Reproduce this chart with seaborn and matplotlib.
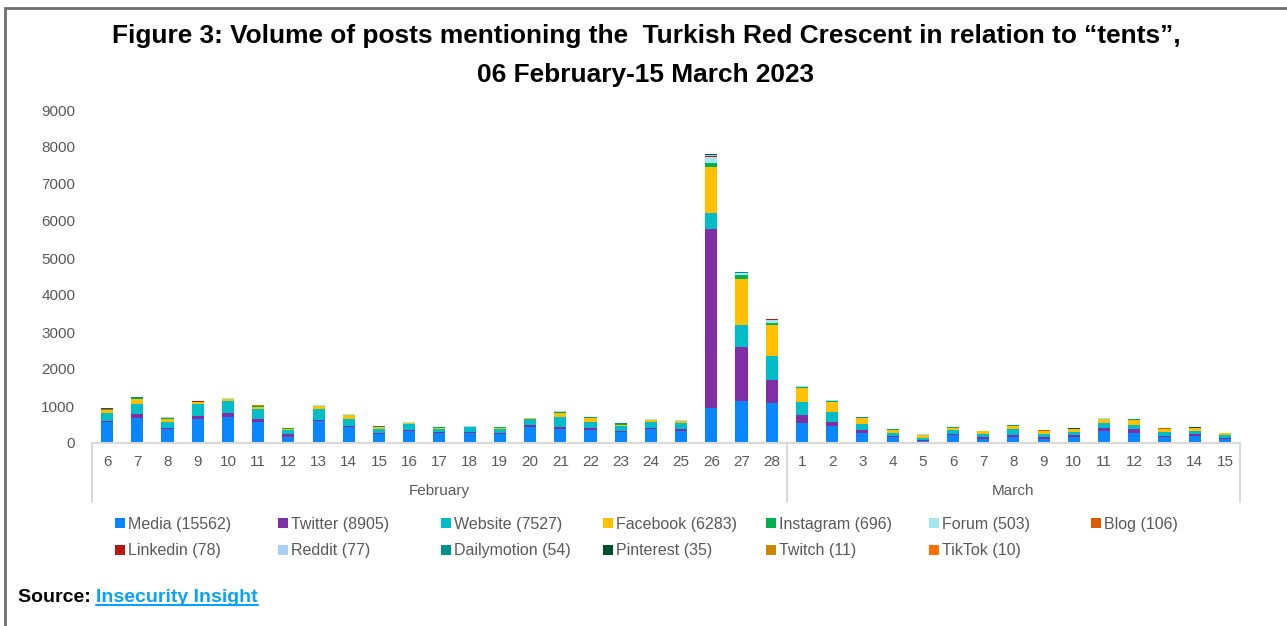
import numpy as np
import pandas as pd
import matplotlib
matplotlib.use("Agg")
import matplotlib.pyplot as plt
import seaborn as sns
from matplotlib import font_manager as fm
from matplotlib.patches import Patch, Rectangle
from matplotlib.lines import Line2D

# ---------------- data ----------------
days = [6, 7, 8, 9, 10, 11, 12, 13, 14, 15, 16, 17, 18, 19, 20, 21, 22, 23, 24, 25, 26, 27, 28,
        1, 2, 3, 4, 5, 6, 7, 8, 9, 10, 11, 12, 13, 14, 15]
month_names = ["February", "March"]
month_counts = [23, 15]

media = [560, 667, 370, 640, 703, 560, 171, 603, 441, 252, 333, 261, 279, 243, 441, 387, 351, 306, 387, 333,
         946, 1124, 1089, 532, 451, 279, 162, 54, 207, 117, 171, 117, 171, 315, 261, 153, 198, 108]
twitter = [40, 117, 45, 98, 117, 89, 81, 27, 18, 9, 27, 27, 18, 27, 37, 54, 46, 27, 18, 54,
           4838, 1460, 622, 225, 125, 63, 36, 36, 36, 45, 36, 36, 36, 99, 126, 36, 36, 27]
website = [220, 270, 162, 324, 306, 270, 99, 289, 198, 117, 145, 90, 127, 117, 162, 253, 179, 117, 171, 153,
           421, 613, 648, 359, 270, 163, 63, 45, 99, 81, 171, 99, 81, 135, 108, 117, 81, 72]
facebook = [70, 127, 81, 38, 63, 63, 27, 72, 91, 46, 35, 36, 10, 27, 27, 126, 108, 36, 46, 55,
            1265, 1235, 838, 362, 270, 162, 99, 81, 72, 81, 90, 72, 81, 100, 135, 72, 82, 54]
instagram = [25, 27, 18, 12, 10, 15, 15, 20, 15, 10, 12, 8, 5, 8, 8, 18, 10, 20, 10, 10,
             92, 98, 54, 44, 27, 12, 6, 8, 6, 6, 10, 8, 10, 10, 15, 8, 10, 6]
forum = [10, 12, 8, 6, 8, 8, 10, 10, 8, 6, 6, 5, 4, 5, 5, 8, 5, 12, 5, 5,
         162, 59, 81, 14, 12, 6, 3, 6, 3, 3, 5, 5, 6, 5, 8, 5, 6, 3]
blog = [6, 4, 3, 2, 3, 3, 4, 5, 3, 2, 2, 2, 1, 2, 2, 3, 2, 4, 2, 2,
        10, 6, 5, 5, 4, 2, 1, 2, 1, 1, 2, 2, 3, 2, 3, 2, 2, 1]
linkedin = [3, 3, 2, 2, 2, 2, 3, 3, 2, 2, 2, 1, 1, 1, 1, 2, 1, 3, 1, 1,
            20, 8, 5, 3, 2, 1, 1, 1, 1, 1, 1, 1, 1, 1, 2, 1, 1, 1]
reddit = [2, 2, 1, 1, 1, 1, 2, 2, 1, 1, 1, 1, 1, 1, 1, 1, 1, 2, 1, 1,
          30, 5, 3, 2, 1, 1, 0, 1, 0, 0, 1, 1, 1, 1, 1, 1, 1, 0]
dailymotion = [2, 2, 1, 1, 1, 1, 1, 2, 1, 1, 1, 1, 0, 1, 1, 1, 1, 2, 1, 1,
               10, 5, 4, 2, 1, 1, 0, 1, 0, 1, 1, 1, 1, 1, 1, 1, 1, 0]
pinterest = [1, 1, 1, 1, 1, 1, 1, 1, 1, 0, 1, 0, 0, 1, 0, 1, 1, 1, 0, 1,
             6, 3, 2, 1, 1, 1, 0, 0, 1, 0, 1, 0, 1, 0, 1, 0, 1, 0]
twitch = [1, 0, 0, 0, 0, 1, 0, 0, 1, 0, 0, 0, 0, 0, 0, 0, 0, 0, 0, 0,
          2, 1, 1, 1, 0, 0, 1, 0, 0, 0, 0, 0, 1, 0, 0, 0, 1, 0]
tiktok = [0, 1, 0, 0, 0, 0, 0, 1, 0, 0, 0, 0, 0, 0, 0, 0, 0, 0, 0, 0,
          2, 1, 1, 1, 0, 0, 0, 1, 0, 0, 0, 0, 1, 1, 0, 0, 0, 0]

series_names = ["Media", "Twitter", "Website", "Facebook", "Instagram", "Forum", "Blog",
                "Linkedin", "Reddit", "Dailymotion", "Pinterest", "Twitch", "TikTok"]
series_totals = [15562, 8905, 7527, 6283, 696, 503, 106, 78, 77, 54, 35, 11, 10]
series_values = [media, twitter, website, facebook, instagram, forum, blog,
                 linkedin, reddit, dailymotion, pinterest, twitch, tiktok]
series_colors = ["#0A86FF", "#7F2EA5", "#00BDC8", "#FFC000", "#00B050", "#A3E6EB", "#E05A00",
                 "#B5190F", "#A9D0F5", "#00918F", "#00522A", "#CC8800", "#FF6E00"]

title_lines = ["Figure 3: Volume of posts mentioning the  Turkish Red Crescent in relation to \u201ctents\u201d,",
               "06 February-15 March 2023"]

# ---------------- style ----------------
sns.set_theme(style="white")
plt.rcParams["font.family"] = ["Liberation Sans", "DejaVu Sans"]
available = {f.name for f in fm.fontManager.ttflist}
narrow = "Liberation Sans Narrow" if "Liberation Sans Narrow" in available else "Liberation Sans"

W, H = 1287, 626
fig = plt.figure(figsize=(W / 100, H / 100), dpi=100)
fig.patch.set_facecolor("white")
ax = fig.add_axes([92 / W, 183 / H, 1148 / W, 333 / H])

rows = []
for name, vals in zip(series_names, series_values):
    for i, v in enumerate(vals):
        rows.append({"pos": i, "series": name, "value": v})
df = pd.DataFrame(rows)

palette = dict(zip(series_names, series_colors))
sns.histplot(data=df, x="pos", weights="value", hue="series",
             hue_order=series_names[::-1], palette=palette,
             multiple="stack", discrete=True, shrink=0.4, alpha=1,
             linewidth=0, legend=False, ax=ax)

ax.set_xlim(-0.5, len(days) - 0.5)
ax.set_ylim(0, 9000)
ax.set_yticks(range(0, 9001, 1000))
ax.set_xticks(range(len(days)))
ax.set_xticklabels([str(d) for d in days])
ax.set_xlabel("")
ax.set_ylabel("")
for s in ["left", "right", "top"]:
    ax.spines[s].set_visible(False)
ax.spines["bottom"].set_color("#D9D9D9")
ax.spines["bottom"].set_linewidth(1.5)
ax.tick_params(axis="both", length=0, labelsize=11, colors="#595959")
ax.tick_params(axis="x", pad=9)
ax.tick_params(axis="y", pad=12)
ax.grid(False)

# month grouping
trans = ax.get_xaxis_transform()
start = 0
seps = [-0.5]
for mname, cnt in zip(month_names, month_counts):
    center = start + (cnt - 1) / 2
    ax.text(center, -48 / 333, mname, transform=trans, ha="center", va="center",
            fontsize=11, color="#595959")
    start += cnt
    seps.append(start - 0.5)
for xv in seps:
    ax.plot([xv, xv], [0, -59 / 333], transform=trans, clip_on=False,
            color="#D9D9D9", lw=1.5)

# title
fig.text(646 / W, 1 - 36 / H, title_lines[0], ha="center", va="center",
         fontsize=18.9, fontweight="bold", family=narrow, color="black")
fig.text(646 / W, 1 - 75 / H, title_lines[1], ha="center", va="center",
         fontsize=18.9, fontweight="bold", family=narrow, color="black")

# legend
col_x = [115, 278, 441, 603, 766, 929, 1091]
row_y = [524, 551]
for i, (name, tot, colr) in enumerate(zip(series_names, series_totals, series_colors)):
    c, r = i % 7, i // 7
    fig.legend(handles=[Patch(facecolor=colr, edgecolor="none", label=f"{name} ({tot})")],
               loc="center left", bbox_to_anchor=(col_x[c] / W, 1 - row_y[r] / H),
               frameon=False, fontsize=11.5, handlelength=0.62, handleheight=0.62,
               handletextpad=0.2, borderpad=0, borderaxespad=0, labelcolor="#595959")

# source
t1 = fig.text(18 / W, 1 - 597 / H, "Source: ", ha="left", va="center",
              fontsize=14, fontweight="bold", family=narrow, color="black")
fig.canvas.draw()
bb = t1.get_window_extent()
t2 = fig.text(bb.x1 / W, 1 - 597 / H, "Insecurity Insight", ha="left", va="center",
              fontsize=14, fontweight="bold", family=narrow, color="#0AA2F2")
fig.canvas.draw()
bb2 = t2.get_window_extent()
fig.add_artist(Line2D([bb2.x0 / W, bb2.x1 / W], [(bb2.y0 + 1) / H, (bb2.y0 + 1) / H],
                      transform=fig.transFigure, color="#0AA2F2", lw=1.5))

# outer frame
fig.add_artist(Rectangle((5 / W, -0.1), 1.2, 1.1 - 8 / H, transform=fig.transFigure,
                         fill=False, edgecolor="#6E6E6E", lw=2))

fig.savefig("out.png", dpi=100, facecolor="white")
